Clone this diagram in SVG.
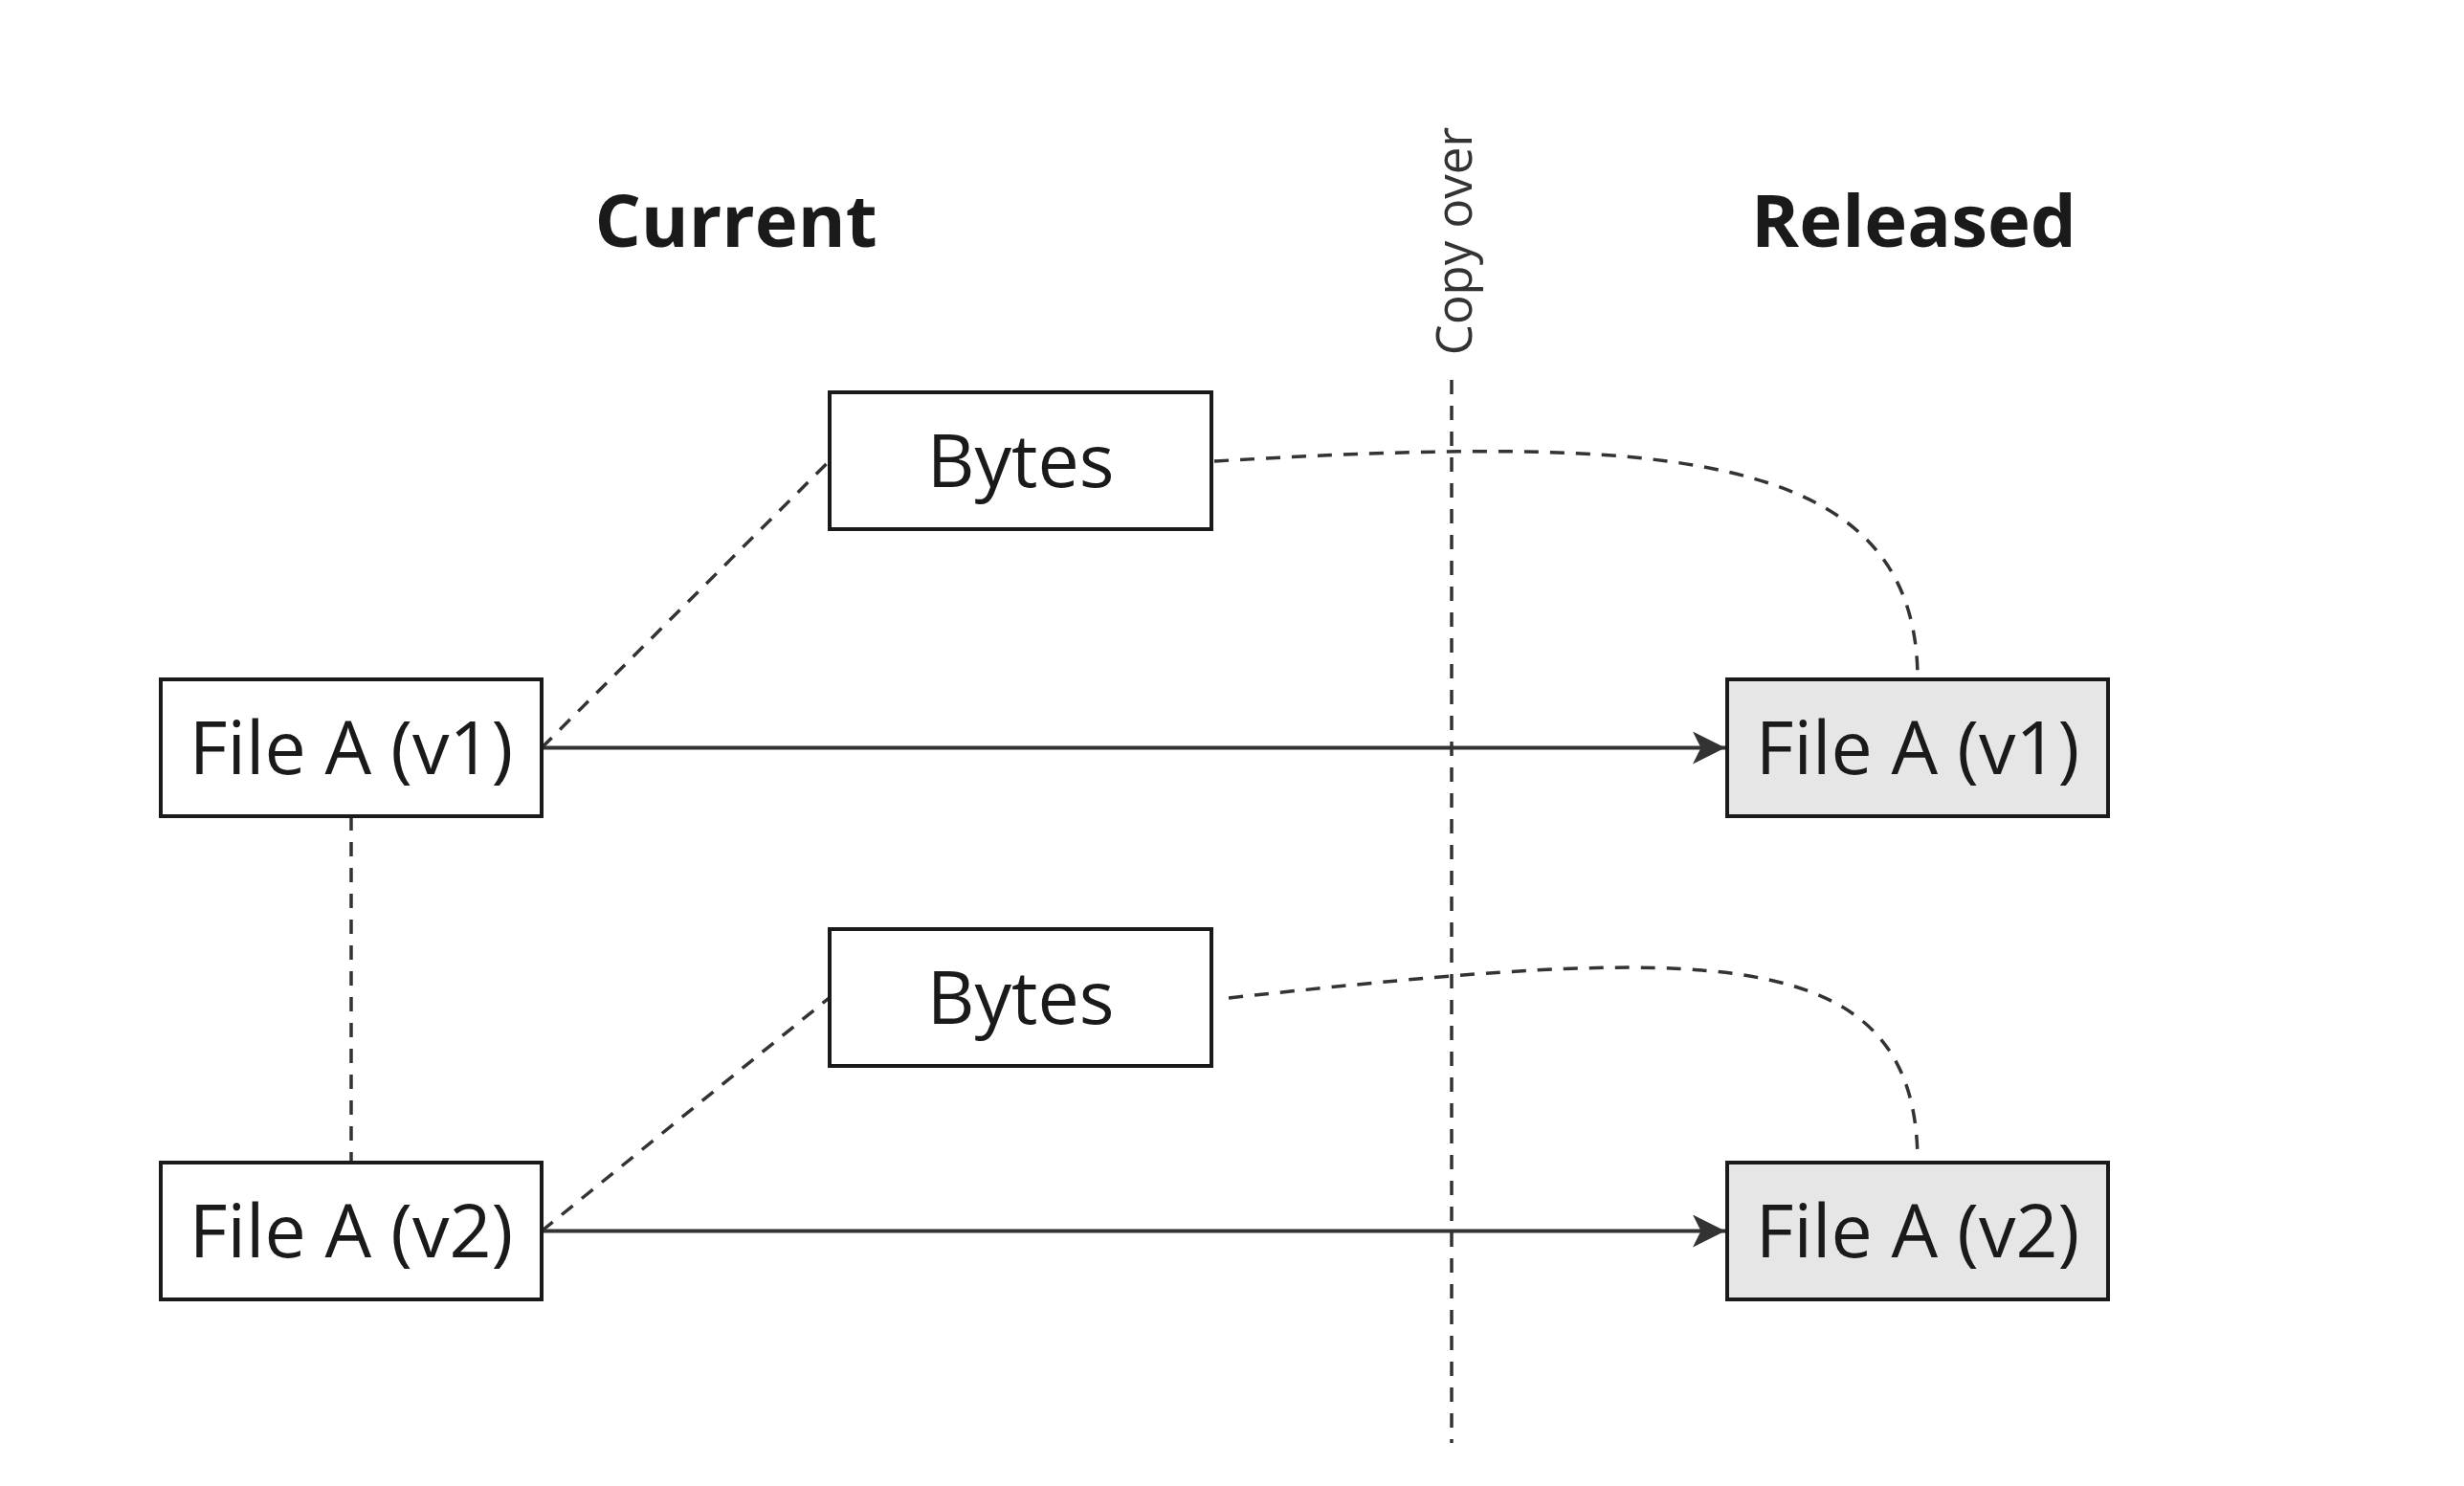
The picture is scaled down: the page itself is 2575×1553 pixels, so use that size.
<svg xmlns="http://www.w3.org/2000/svg" width="2575" height="1553" viewBox="0 0 2575 1553">
<style>
.box{fill:#ffffff;stroke:#1a1a1a;stroke-width:4}
.rel{fill:#e6e6e6;stroke:#1a1a1a;stroke-width:4}
.lbl{font-family:"Open Sans","Noto Sans","DejaVu Sans",sans-serif;font-size:77px;fill:#1a1a1a;text-anchor:middle}
.hdr{font-family:"Open Sans","Noto Sans","DejaVu Sans",sans-serif;font-size:76px;font-weight:bold;fill:#1a1a1a;text-anchor:middle}
.sm{font-family:"Open Sans","Noto Sans","DejaVu Sans",sans-serif;font-size:51px;fill:#333333;text-anchor:middle}
.dash{fill:none;stroke:#333333;stroke-width:3.5;stroke-dasharray:15 12}
.solid{fill:none;stroke:#333333;stroke-width:4}
</style>
<defs>
<marker id="ah" viewBox="0 0 10 10" refX="10" refY="5" markerWidth="8.5" markerHeight="8.5" markerUnits="strokeWidth" orient="auto">
<path d="M0,0 L10,5 L0,10 L2.5,5 Z" fill="#333333"/>
</marker>
</defs>
<rect width="2575" height="1553" fill="#ffffff"/>
<g id="headers">
<text class="hdr" x="769" y="258">Current</text>
<text class="hdr" x="2000" y="258">Released</text>
</g>
<g id="copy-over">
<line class="dash" x1="1517" y1="397" x2="1517" y2="1508"/>
<text class="sm" transform="translate(1538,252) rotate(-90)" x="0" y="0">Copy over</text>
</g>
<g id="connectors">
<line class="solid" x1="566" y1="781.5" x2="1803" y2="781.5" marker-end="url(#ah)"/>
<line class="solid" x1="566" y1="1286.5" x2="1803" y2="1286.5" marker-end="url(#ah)"/>
<line class="dash" x1="566" y1="781.5" x2="867" y2="481.5"/>
<line class="dash" x1="566" y1="1286.5" x2="867" y2="1042.5"/>
<line class="dash" x1="367" y1="853" x2="367" y2="1215"/>
<path class="dash" d="M1269,482 C1730,455 2004,465 2004,710"/>
<path class="dash" d="M1284,1043 C1779,989 2004,979 2004,1215"/>
</g>
<g id="bytes1"><rect class="box" x="867" y="410" width="399" height="143"/><text class="lbl" x="1066.5" y="509">Bytes</text></g>
<g id="bytes2"><rect class="box" x="867" y="971" width="399" height="143"/><text class="lbl" x="1066.5" y="1070">Bytes</text></g>
<g id="fileA-v1-current"><rect class="box" x="168" y="710" width="398" height="143"/><text class="lbl" x="367" y="809">File A (v1)</text></g>
<g id="fileA-v2-current"><rect class="box" x="168" y="1215" width="398" height="143"/><text class="lbl" x="367" y="1314">File A (v2)</text></g>
<g id="fileA-v1-released"><rect class="rel" x="1805" y="710" width="398" height="143"/><text class="lbl" x="2004" y="809">File A (v1)</text></g>
<g id="fileA-v2-released"><rect class="rel" x="1805" y="1215" width="398" height="143"/><text class="lbl" x="2004" y="1314">File A (v2)</text></g>
</svg>
